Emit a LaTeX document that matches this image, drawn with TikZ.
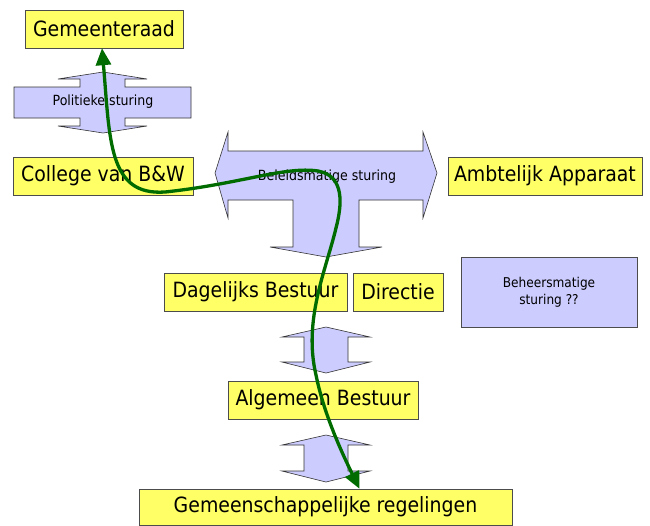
\documentclass[tikz,border=0pt]{standalone}
\usepackage{fontspec}
\setmainfont{DejaVu Sans Condensed}
\usepackage{tikz}
\usetikzlibrary{arrows.meta}
\definecolor{boxyellow}{RGB}{255,255,102}
\definecolor{steerblue}{RGB}{204,204,255}
\definecolor{pathgreen}{RGB}{0,108,0}

\begin{document}
\begin{tikzpicture}[x=1pt,y=-1pt,
    ybox/.style={draw=black!70, fill=boxyellow, inner sep=0pt, minimum height=38pt,
        font=\fontsize{21}{24}\selectfont},
    sbox/.style={draw=black!70, fill=steerblue, inner sep=0pt, align=center,
        font=\fontsize{13.5}{17}\selectfont},
    steer/.style={draw=black!80, fill=steerblue, line width=0.6pt},
    slabel/.style={font=\fontsize{14}{15}\selectfont, inner sep=0pt}]
    \useasboundingbox (0,0) rectangle (650,525);

    % Boxes
    \node[ybox, minimum width=158pt] (raad) at (104,29) {Gemeenteraad};
    \node[ybox, minimum width=180pt] (college) at (103,176) {College van B\&W};
    \node[ybox, minimum width=194pt] (apparaat) at (545,176) {Ambtelijk Apparaat};
    \node[ybox, minimum width=183pt] (db) at (255.5,292) {Dagelijks Bestuur};
    \node[ybox, minimum width=90pt] (directie) at (398,292) {Directie};
    \node[ybox, minimum width=190pt] (ab) at (323,400) {Algemeen Bestuur};
    \node[ybox, minimum width=373pt, minimum height=36pt] (gr) at (325.5,507) {Gemeenschappelijke regelingen};
    \node[sbox, minimum width=176pt, minimum height=70pt] (beheer) at (549,292) {Beheersmatige\\sturing ??};

    % Politieke sturing (double arrow with wide bar)
    \draw[steer] (103,72) -- (147,79) -- (125,79) -- (125,87) -- (191,87) -- (191,118)
        -- (125,118) -- (125,126) -- (147,126) -- (103,133) -- (58,126) -- (80,126)
        -- (80,118) -- (14,118) -- (14,87) -- (80,87) -- (80,79) -- (58,79) -- cycle;
    \node[slabel] (politiek) at (103,102) {Politieke sturing};

    % Beleidsmatige sturing (three-way arrow)
    \draw[steer] (215,173) -- (228,132) -- (228,151) -- (423,151) -- (423,132) -- (437,173)
        -- (423,218) -- (423,200) -- (359,200) -- (359,247) -- (382,247) -- (326,257)
        -- (270,247) -- (293,247) -- (293,200) -- (228,200) -- (228,218) -- cycle;
    \node[slabel] (beleid) at (327,177) {Beleidsmatige sturing};

    % Small double arrows between the boards
    \foreach \ya/\yb/\yc/\yd in {327/337/362/373, 435/445/471/482} {
        \draw[steer] (326,\ya) -- (370,\yb) -- (348,\yb) -- (348,\yc) -- (370,\yc) -- (326,\yd)
            -- (282,\yc) -- (304,\yc) -- (304,\yb) -- (282,\yb) -- cycle;
    }

    % Green route from Gemeenteraad down to the regelingen
    \coordinate (routetop) at ([xshift=-2pt]raad.south);
    \coordinate (routebot) at ([xshift=34pt]gr.north);
    \draw[pathgreen, line width=3.3pt,
        {Triangle[length=17pt,width=15pt]}-{Triangle[length=17pt,width=15pt]}]
        (routetop) .. controls (110,140) and (108,196) .. (165,192)
        .. controls (240,184) and (285,166) .. (318,171)
        .. controls (345,176) and (342,205) .. (336,228)
        .. controls (326,270) and (303,320) .. (316,375)
        .. controls (324,415) and (343,455) .. (routebot);
\end{tikzpicture}
\end{document}
